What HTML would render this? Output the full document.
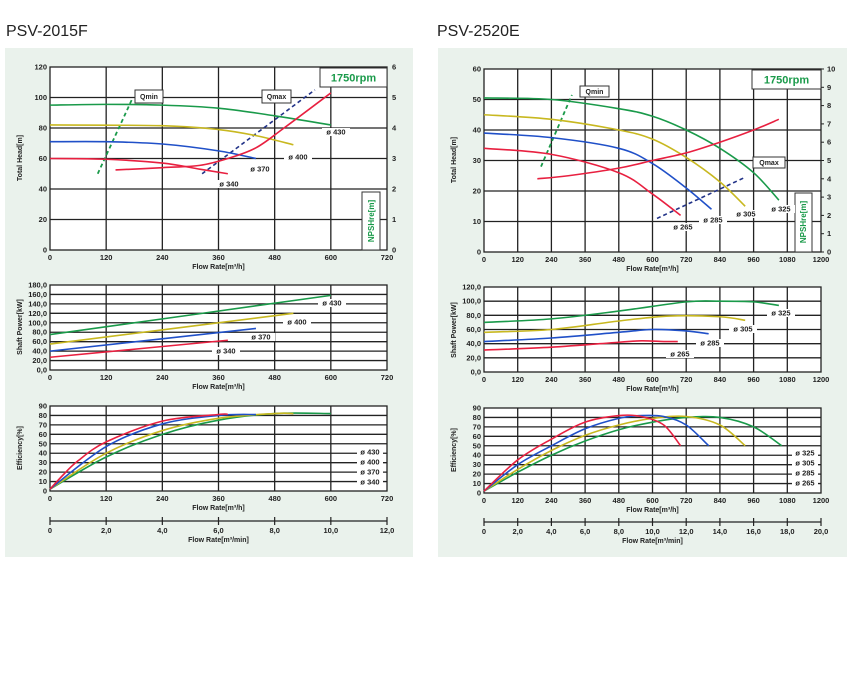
<!DOCTYPE html>
<html><head><meta charset="utf-8"><style>
body{margin:0;background:#fff;width:853px;height:677px;overflow:hidden;font-family:"Liberation Sans",sans-serif}
svg{position:absolute;left:0;top:0}
.t{font-size:16px;fill:#222;font-family:"Liberation Sans Narrow","Liberation Sans",sans-serif}
.tk{font-size:7.5px;font-weight:bold;fill:#222}
.ax{font-size:7px;font-weight:bold;fill:#222}
</style></head><body>
<svg id="s" width="853" height="677" xmlns="http://www.w3.org/2000/svg">
<rect x="5" y="48" width="408" height="509" fill="#eaf2ec"/>
<rect x="438" y="48" width="409" height="509" fill="#eaf2ec"/>
<text class="t" x="6" y="36">PSV-2015F</text>
<text class="t" x="437" y="36">PSV-2520E</text>
</svg>
<script>
var S=document.getElementById('s'),NS='http://www.w3.org/2000/svg';
function el(n,a,t){var e=document.createElementNS(NS,n);for(var k in a)e.setAttribute(k,a[k]);if(t!=null)e.textContent=t;S.appendChild(e);return e;}
function txt(x,y,s,cls,anc,extra){var a={x:x,y:y,'class':cls||'tk','text-anchor':anc||'middle'};for(var k in extra)a[k]=extra[k];return el('text',a,s);}
function Plot(x0,x1,y0,y1,xmax,ymax){this.x0=x0;this.x1=x1;this.y0=y0;this.y1=y1;this.xmax=xmax;this.ymax=ymax;}
Plot.prototype.X=function(v){return this.x0+(this.x1-this.x0)*v/this.xmax};
Plot.prototype.Y=function(v){return this.y1-(this.y1-this.y0)*v/this.ymax};
Plot.prototype.frame=function(nx,ny,labY,fmt,xfmt,xtitle){
 el('rect',{x:this.x0,y:this.y0,width:this.x1-this.x0,height:this.y1-this.y0,fill:'#fff',stroke:'#222','stroke-width':1.3});
 for(var i=1;i<nx;i++){var x=this.x0+(this.x1-this.x0)*i/nx;el('line',{x1:x,y1:this.y0,x2:x,y2:this.y1,stroke:'#222','stroke-width':1.3});}
 for(var j=1;j<ny;j++){var y=this.y0+(this.y1-this.y0)*j/ny;el('line',{x1:this.x0,y1:y,x2:this.x1,y2:y,stroke:'#222','stroke-width':1.3});}
 for(var j=0;j<=ny;j++){var y=this.y1-(this.y1-this.y0)*j/ny;txt(this.x0-3,y+2.5,fmt(this.ymax*j/ny),'tk','end');}
 for(var i=0;i<=nx;i++){var x=this.x0+(this.x1-this.x0)*i/nx;txt(x,this.y1+10,String(this.xmax*i/nx));}
 txt((this.x0+this.x1)/2,this.y1+19,xtitle,'ax');
};
Plot.prototype.curve=function(pts,col,w,dash){
 var P=pts.map(function(p){return [this.X(p[0]),this.Y(p[1])]},this);
 var d='M'+P[0][0]+','+P[0][1];
 for(var i=0;i<P.length-1;i++){var p0=P[i-1]||P[i],p1=P[i],p2=P[i+1],p3=P[i+2]||p2;
  d+=' C'+(p1[0]+(p2[0]-p0[0])/6)+','+(p1[1]+(p2[1]-p0[1])/6)+' '+(p2[0]-(p3[0]-p1[0])/6)+','+(p2[1]-(p3[1]-p1[1])/6)+' '+p2[0]+','+p2[1];}
 var a={d:d,fill:'none',stroke:col,'stroke-width':w||1.6};if(dash)a['stroke-dasharray']=dash;el('path',a);
};
function lab(x,y,s,w){el('rect',{x:x-(w||14),y:y-5,width:2*(w||14),height:8,fill:'#fff'});txt(x,y+1.5,s,'tk');}
function box(x,y,w,h,s,cls,col,fs){el('rect',{x:x,y:y,width:w,height:h,fill:'#fff',stroke:'#333','stroke-width':1});el('text',{x:x+w/2,y:y+h/2+fs*0.36,'text-anchor':'middle','font-size':fs,'font-weight':'bold',fill:col},s);}
function vlab(x,y,s){el('text',{x:0,y:0,'class':'ax','text-anchor':'middle',transform:'translate('+x+','+y+') rotate(-90)'},s);}
function sec(x0,x1,y,max,step){el('line',{x1:x0,y1:y,x2:x1,y2:y,stroke:'#222','stroke-width':1.2});
 for(var v=0;v<=max;v+=step){var x=x0+(x1-x0)*v/max;el('line',{x1:x,y1:y-4,x2:x,y2:y+4,stroke:'#222','stroke-width':1.2});txt(x,y+12,v==0?'0':v.toFixed(1).replace('.',','));}
 txt((x0+x1)/2,y+21,'Flow Rate[m³/min]','ax');}
var G='#1a9a4a',Yc='#c8b820',B='#2050c8',R='#e82040',N='#223388';
var I=function(v){return String(v)},F=function(v){return v.toFixed(1).replace('.',',')};
// LEFT
var a=new Plot(50,387,67,250,720,120);a.frame(6,6,0,I,I,'Flow Rate[m³/h]');
for(var j=0;j<=6;j++)txt(392,a.Y(j*20)+2.5,String(j),'tk','start');
vlab(22,158,'Total Head[m]');
a.curve([[102,50],[177,100]],G,1.8,'4,3');
a.curve([[325,50],[566,105]],N,1.6,'4,3');
a.curve([[0,95],[120,95.5],[240,95],[360,93],[480,88],[600,82]],G);
a.curve([[0,82],[240,81.5],[360,79],[440,75],[520,69]],Yc);
a.curve([[0,71],[120,71],[240,69.5],[360,65],[440,60]],B);
a.curve([[0,60],[120,59.5],[240,57],[320,53],[380,50]],R);
a.curve([[140,52.5],[240,54],[320,55.5],[380,60],[440,67],[500,80],[600,103]],R);
box(135,90,28,13,'Qmin','',"#222",7);box(262,90,29,13,'Qmax','',"#222",7);
box(320,68,67,19,'1750rpm','',G,11);
el('rect',{x:362,y:192,width:18,height:58,fill:'#fff',stroke:'#333'});
el('text',{x:0,y:0,'font-size':8,'font-weight':'bold',fill:G,'text-anchor':'middle',transform:'translate(374,221) rotate(-90)'},'NPSHre[m]');
lab(336,133,'ø 430');lab(298,158,'ø 400');lab(260,170,'ø 370');lab(229,185,'ø 340');
var b=new Plot(50,387,285,370,720,180);b.frame(6,9,0,F,I,'Flow Rate[m³/h]');
vlab(22,327,'Shaft Power[kW]');
b.curve([[0,75],[600,158]],G);b.curve([[0,55],[520,120]],Yc);b.curve([[0,40],[440,88]],B);b.curve([[0,27],[380,63]],R);
lab(332,304,'ø 430');lab(297,323,'ø 400');lab(261,338,'ø 370');lab(226,352,'ø 340');
var c=new Plot(50,387,406,491,720,90);c.frame(6,9,0,I,I,'Flow Rate[m³/h]');
vlab(22,448,'Efficiency[%]');
c.curve([[0,2],[120,36],[240,60],[360,75],[480,82],[600,82]],G);
c.curve([[0,2],[120,40],[240,64],[360,77],[480,82],[520,82]],Yc);
c.curve([[0,2],[120,47],[240,71],[360,80],[440,81]],B);
c.curve([[0,2],[30,18],[60,32],[120,52],[240,74],[360,81],[380,81]],R);
lab(370,453,'ø 430',13);lab(370,463,'ø 400',13);lab(370,473,'ø 370',13);lab(370,483,'ø 340',13);
sec(50,387,521,12,2);
// RIGHT
var d=new Plot(484,821,69,252,1200,60);d.frame(10,6,0,I,I,'Flow Rate[m³/h]');
for(var j=0;j<=10;j++){var y=252-183*j/10;el('line',{x1:821,y1:y,x2:824,y2:y,stroke:'#222'});txt(827,y+2.5,String(j),'tk','start');}
vlab(456,160,'Total Head[m]');
d.curve([[203,28],[313,51.5]],G,1.8,'4,3');
d.curve([[616,11],[930,24.5]],N,1.6,'4,3');
d.curve([[0,50.5],[240,50],[480,47],[600,44.5],[720,40],[840,34],[960,26],[1050,17]],G);
d.curve([[0,45],[240,43.5],[480,40],[600,37],[720,31],[840,23],[930,15]],Yc);
d.curve([[0,39],[240,37.5],[480,34],[600,29],[720,21],[810,14]],B);
d.curve([[0,34],[240,32],[480,26],[600,19],[700,12]],R);
d.curve([[190,24],[300,25],[480,27.5],[600,30],[720,32.5],[840,36],[960,40],[1050,43.5]],R);
box(580,86,29,11,'Qmin','',"#222",7);box(753,157,32,11,'Qmax','',"#222",7);
box(752,70,69,19,'1750rpm','',G,11);
el('rect',{x:795,y:193,width:17,height:59,fill:'#fff',stroke:'#333'});
el('text',{x:0,y:0,'font-size':8,'font-weight':'bold',fill:G,'text-anchor':'middle',transform:'translate(806,222) rotate(-90)'},'NPSHre[m]');
lab(683,228,'ø 265');lab(713,221,'ø 285');lab(746,215,'ø 305');lab(781,210,'ø 325');
var e=new Plot(484,821,287,372,1200,120);e.frame(10,6,0,F,I,'Flow Rate[m³/h]');
vlab(456,330,'Shaft Power[kW]');
e.curve([[0,70],[240,75],[480,86],[720,99],[840,100],[960,99],[1050,94]],G);
e.curve([[0,56],[240,60],[480,72],[660,79],[840,78],[930,73]],Yc);
e.curve([[0,43],[240,48],[480,56],[600,60],[720,58],[800,54]],B);
e.curve([[0,31],[240,35],[480,42],[560,44],[640,43],[690,43]],R);
lab(781,314,'ø 325');lab(743,330,'ø 305');lab(710,344,'ø 285');lab(680,355,'ø 265');
var f=new Plot(484,821,408,493,1200,90);f.frame(10,9,0,I,I,'Flow Rate[m³/h]');
vlab(456,450,'Efficiency[%]');
f.curve([[0,2],[120,22],[240,40],[360,55],[480,67],[600,75],[720,80],[840,80],[960,70],[1060,50]],G);
f.curve([[0,2],[120,25],[240,45],[360,61],[480,72],[600,79],[720,81],[840,72],[930,50]],Yc);
f.curve([[0,2],[120,30],[240,50],[360,68],[480,79],[560,82],[640,81],[720,72],[800,50]],B);
f.curve([[0,2],[120,35],[240,57],[360,75],[480,82],[560,81],[640,72],[700,50]],R);
lab(805,454,'ø 325',13);lab(805,464,'ø 305',13);lab(805,474,'ø 285',13);lab(805,484,'ø 265',13);
sec(484,821,522,20,2);
</script>
</body></html>
